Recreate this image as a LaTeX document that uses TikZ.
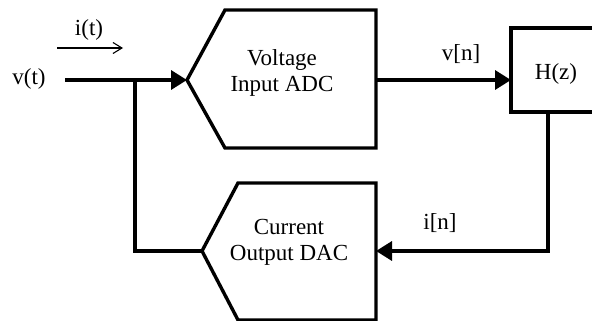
\documentclass[tikz,border=0pt]{standalone}
\usepackage{fontspec}
\setmainfont{Liberation Serif}
\usetikzlibrary{arrows.meta}
\begin{document}
\begin{tikzpicture}[x=1pt,y=-1pt,
  blk/.style={line width=3.4pt,line join=miter},
  wire/.style={line width=3.4pt},
  arr/.style={wire,-{Triangle[length=16pt,width=19pt]}},
  lbl/.style={inner sep=0pt,font=\fontsize{23}{26}\selectfont,align=center}]
\useasboundingbox (0,0) rectangle (592,321);
\clip (0,0) rectangle (592,321);
% ADC block
\draw[blk] (376,10) -- (225,10) -- (187,80) coordinate (adcin) -- (225,148) -- (376,148) -- cycle;
\coordinate (adcout) at (376,80);
\node[lbl] (adc) at (282,73) {Voltage\\Input ADC};
% DAC block
\draw[blk] (376,183) -- (238,183) -- (202,251) coordinate (dacout) -- (238,320) -- (376,320) -- cycle;
\coordinate (dacin) at (376,251);
\node[lbl] (dac) at (289,242) {Current\\Output DAC};
% H(z)
\draw[blk] (600,28) -- (511,28) -- (511,112) -- (600,112);
\coordinate (hin) at (511,80);
\coordinate (hout) at (548,112);
\node[lbl] (h) at (556,74) {H(z)};
% labels
\node[lbl] (vt) at (29,79) {v(t)};
\node[lbl] (it) at (89,30) {i(t)};
\node[lbl] (vn) at (461,54) {v[n]};
\node[lbl] (in) at (440,223) {i[n]};
% wires
\coordinate (vstart) at (65,80);
\coordinate (junc) at (135,80);
\coordinate (jlow) at (135,251);
\coordinate (hcorner) at (548,251);
\draw[arr] (vstart) -- (adcin);
\draw[wire,line join=miter] (dacout) -- (jlow) -- (junc);
\draw[arr] (adcout) -- (hin);
\draw[arr,line join=miter] (hout) -- (hcorner) -- (dacin);
\coordinate (ia) at (57,48);
\coordinate (ib) at (123,48);
\draw[line width=1.1pt,-{Straight Barb[length=9pt,width=11pt]}] (ia) -- (ib);
\end{tikzpicture}
\end{document}
